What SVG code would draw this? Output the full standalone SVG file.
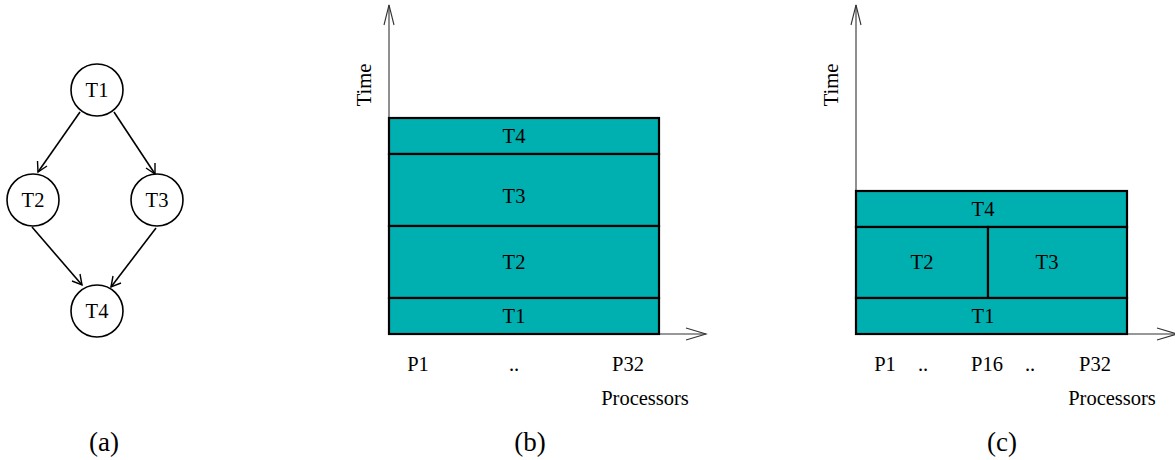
<svg xmlns="http://www.w3.org/2000/svg" width="1175" height="460" viewBox="0 0 1175 460">
<style>
text{font-family:"Liberation Serif","Times New Roman",serif;font-size:20.5px;fill:#000}
.c{text-anchor:middle}
.node{fill:#fff;stroke:#000;stroke-width:1.6}
.edge{fill:none;stroke:#000;stroke-width:1.6}
.head{fill:none;stroke:#000;stroke-width:1.4}
.axis{fill:none;stroke:#333;stroke-width:1.1}
.bar{fill:#00B0B0;stroke:#000;stroke-width:2.2}
.cap{font-size:27px}
</style>
<rect width="1175" height="460" fill="#fff"/>
<!-- (a) task graph -->
<g id="connectors">
<line class="edge" x1="80" y1="112" x2="38" y2="172"/>
<polyline class="head" points="37.5,161 38,172 47,166"/>
<line class="edge" x1="114" y1="112" x2="155" y2="174"/>
<polyline class="head" points="146,168 155,174 155,163"/>
<line class="edge" x1="32" y1="227" x2="82" y2="285"/>
<polyline class="head" points="80,274 82,285 72,281"/>
<line class="edge" x1="156" y1="228" x2="111" y2="287"/>
<polyline class="head" points="121,283 111,287 113,276"/>
</g>
<g id="T1"><circle class="node" cx="97" cy="90" r="26"/><text class="c" x="97" y="97">T1</text></g>
<g id="T2"><circle class="node" cx="33" cy="200" r="26"/><text class="c" x="33" y="207">T2</text></g>
<g id="T3"><circle class="node" cx="157" cy="200" r="26"/><text class="c" x="157" y="207">T3</text></g>
<g id="T4"><circle class="node" cx="97" cy="311" r="26"/><text class="c" x="97" y="318">T4</text></g>
<text class="c cap" x="104" y="451">(a)</text>
<!-- (b) -->
<g id="chart-b">
<line class="axis" x1="389" y1="334" x2="389" y2="5"/>
<polyline class="axis" points="384,25 389,5 394,25"/>
<line class="axis" x1="389" y1="334" x2="706" y2="334"/>
<polyline class="axis" points="686,328 706,334 686,340"/>
<rect class="bar" x="389" y="118" width="270" height="36"/>
<rect class="bar" x="389" y="154" width="270" height="72"/>
<rect class="bar" x="389" y="226" width="270" height="72"/>
<rect class="bar" x="389" y="298" width="270" height="36"/>
<text class="c" x="514" y="143">T4</text>
<text class="c" x="514" y="203">T3</text>
<text class="c" x="514" y="269">T2</text>
<text class="c" x="514" y="323">T1</text>
<text class="c" x="371" y="85" transform="rotate(-90 371 85)">Time</text>
<text class="c" x="418" y="371">P1</text>
<text class="c" x="514" y="371">..</text>
<text class="c" x="628" y="371">P32</text>
<text class="c" x="645" y="405">Processors</text>
</g>
<text class="c cap" x="530" y="451">(b)</text>
<!-- (c) -->
<g id="chart-c">
<line class="axis" x1="856" y1="334" x2="856" y2="5"/>
<polyline class="axis" points="851,25 856,5 861,25"/>
<line class="axis" x1="856" y1="334" x2="1175" y2="334"/>
<polyline class="axis" points="1157,328 1177,334 1157,340"/>
<rect class="bar" x="856" y="191" width="271" height="36"/>
<rect class="bar" x="856" y="227" width="132" height="71"/>
<rect class="bar" x="988" y="227" width="139" height="71"/>
<rect class="bar" x="856" y="298" width="271" height="36"/>
<text class="c" x="983" y="216">T4</text>
<text class="c" x="922" y="269">T2</text>
<text class="c" x="1047" y="269">T3</text>
<text class="c" x="983" y="323">T1</text>
<text class="c" x="838" y="85" transform="rotate(-90 838 85)">Time</text>
<text class="c" x="885" y="371">P1</text>
<text class="c" x="923" y="371">..</text>
<text class="c" x="987" y="371">P16</text>
<text class="c" x="1030" y="371">..</text>
<text class="c" x="1095" y="371">P32</text>
<text class="c" x="1112" y="405">Processors</text>
</g>
<text class="c cap" x="1002" y="451">(c)</text>
</svg>
